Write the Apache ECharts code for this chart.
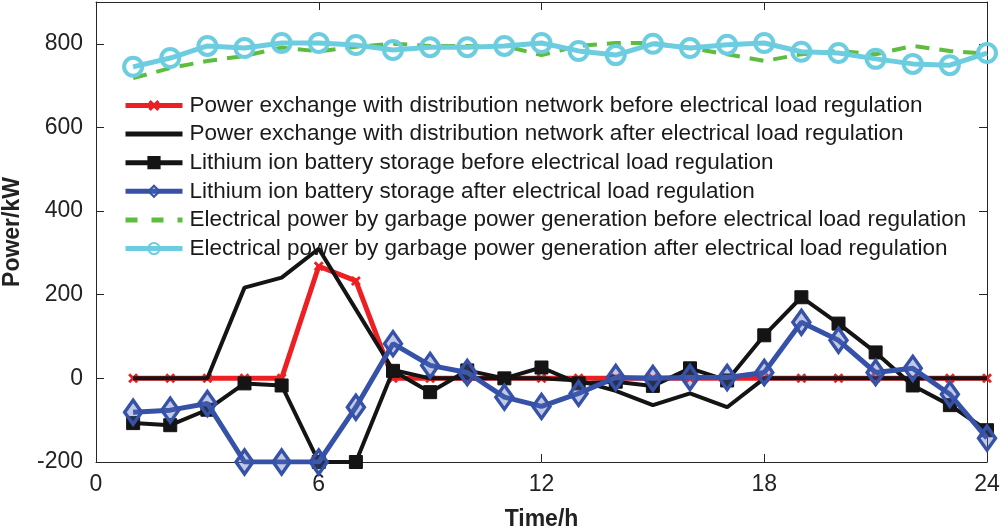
<!DOCTYPE html>
<html>
<head>
<meta charset="utf-8">
<script src="https://cdn.jsdelivr.net/npm/echarts@6/dist/echarts.min.js"></script>
<style>html,body{margin:0;padding:0;background:#fff}#c{width:1000px;height:527px}</style>
</head>
<body>
<div id="c"></div>
<script>
var hours = [1,2,3,4,5,6,7,8,9,10,11,12,13,14,15,16,17,18,19,20,21,22,23,24];
var xTicks = [0,6,12,18,24];
var gridBefore = [0,0,0,0,0,268,233,0,0,0,0,0,0,0,0,0,0,0,0,0,0,0,0,0];
var gridAfter = [0,0,0,217,241,310,165,20,0,0,0,0,-5,-30,-64,-36,-69,0,0,0,0,0,0,0];
var batteryBefore = [-107,-112,-75,-12,-17,-200,-200,18,-33,19,0,26,-12,-8,-18,24,-5,103,194,131,62,-17,-64,-124];
var batteryAfter = [-81,-76,-60,-200,-200,-200,-69,83,31,14,-45,-67,-36,2,0,2,2,14,134,91,14,24,-38,-143];
var garbageBefore = [718,742,759,771,791,782,793,800,795,795,795,773,795,802,802,790,775,759,775,783,775,795,783,776];
var garbageAfter = [745,766,795,790,802,802,797,785,792,792,795,802,783,773,800,790,798,802,781,778,764,752,749,778];
var names = [
  'Power exchange with distribution network before electrical load regulation',
  'Power exchange with distribution network after electrical load regulation',
  'Lithium ion battery storage before electrical load regulation',
  'Lithium ion battery storage after electrical load regulation',
  'Electrical power by garbage power generation before electrical load regulation',
  'Electrical power by garbage power generation after electrical load regulation'
];
function pairs(arr){ return hours.map(function(h,i){ return [h, arr[i]]; }); }
var xMark = 'path://M0,2L2,0L5,3L8,0L10,2L7,5L10,8L8,10L5,7L2,10L0,8L3,5Z';
var font = 'Arial, "Liberation Sans", Helvetica, sans-serif';
var axisCol = '#262626';
function baseX(pos, showLabel){
  return {type:'value', position:pos, min:0, max:24, interval:6,
    axisLine:{show:true, onZero:false, lineStyle:{color:axisCol, width:1}},
    axisTick:{show:true, inside:true, length:8, lineStyle:{color:axisCol}},
    axisLabel:{show:showLabel, color:'#222', fontSize:23, fontFamily:font, margin:11},
    splitLine:{show:false}};
}
function baseY(pos, showLabel){
  return {type:'value', position:pos, min:-200, max:900, interval:200,
    axisLine:{show:true, onZero:false, lineStyle:{color:axisCol, width:1}},
    axisTick:{show:true, inside:true, length:8, lineStyle:{color:axisCol}},
    axisLabel:{show:showLabel, color:'#222', fontSize:23, fontFamily:font, margin:13,
      formatter:function(v){ return v===900 ? '' : String(v); }},
    splitLine:{show:false}};
}
var bx = baseX('bottom', true);
bx.name = 'Time/h'; bx.nameLocation = 'middle'; bx.nameGap = 46;
bx.nameTextStyle = {fontSize:23, fontWeight:'bold', color:'#222', fontFamily:font};
var ly = baseY('left', true);
ly.name = 'Power/kW'; ly.nameLocation = 'middle'; ly.nameGap = 72;
ly.nameTextStyle = {fontSize:23, fontWeight:'bold', color:'#222', fontFamily:font};
var tx = baseX('top', false);
var ry = baseY('right', false);

var colors = ['#ee1f23','#141414','#141414','#3552a8','#5ebd3e','#6ccde0'];
var legendData = names.map(function(n, i){
  var d = {name:n, lineStyle:{width:5, color:colors[i]}};
  if (i === 1 || i === 4) d.itemStyle = {opacity:0};
  if (i === 4) d.lineStyle = {width:5, color:colors[i], type:[12,14]};
  return d;
});

var option = {
  animation:false,
  backgroundColor:'#fff',
  grid:{left:96, right:13, top:2, bottom:65, containLabel:false, outerBoundsMode:'none'},
  xAxis:[bx, tx],
  yAxis:[ly, ry],
  legend:{
    orient:'vertical', left:118, top:89, itemWidth:57, itemHeight:14, itemGap:5.6,
    padding:5,
    textStyle:{fontSize:22.5, fontFamily:font, color:'#1a1a1a', lineHeight:22, padding:[0,0,0,2]},
    data:legendData
  },
  series:[
    {name:names[0], type:'line', data:pairs(gridBefore), z:3,
      lineStyle:{color:colors[0], width:5}, itemStyle:{color:colors[0]},
      symbol:xMark, symbolSize:10, showSymbol:true},
    {name:names[1], type:'line', data:pairs(gridAfter), z:4,
      lineStyle:{color:colors[1], width:4}, itemStyle:{color:colors[1]},
      symbol:'none'},
    {name:names[2], type:'line', data:pairs(batteryBefore), z:5,
      lineStyle:{color:colors[2], width:4}, itemStyle:{color:colors[2], borderColor:colors[2], borderWidth:1},
      symbol:'rect', symbolSize:13},
    {name:names[3], type:'line', data:pairs(batteryAfter), z:6,
      lineStyle:{color:colors[3], width:5}, itemStyle:{color:'rgba(80,100,180,0.35)', borderColor:colors[3], borderWidth:3.5},
      symbol:'diamond', symbolSize:[17,24]},
    {name:names[4], type:'line', data:pairs(garbageBefore), z:7,
      lineStyle:{color:colors[4], width:4, type:[14,10]}, itemStyle:{color:colors[4]},
      symbol:'none'},
    {name:names[5], type:'line', data:pairs(garbageAfter), z:8,
      lineStyle:{color:colors[5], width:5}, itemStyle:{color:'rgba(255,255,255,0)', borderColor:colors[5], borderWidth:4},
      symbol:'circle', symbolSize:18}
  ]
};
var chart = echarts.init(document.getElementById('c'), null, {renderer:'canvas'});
chart.setOption(option);
</script>
</body>
</html>
